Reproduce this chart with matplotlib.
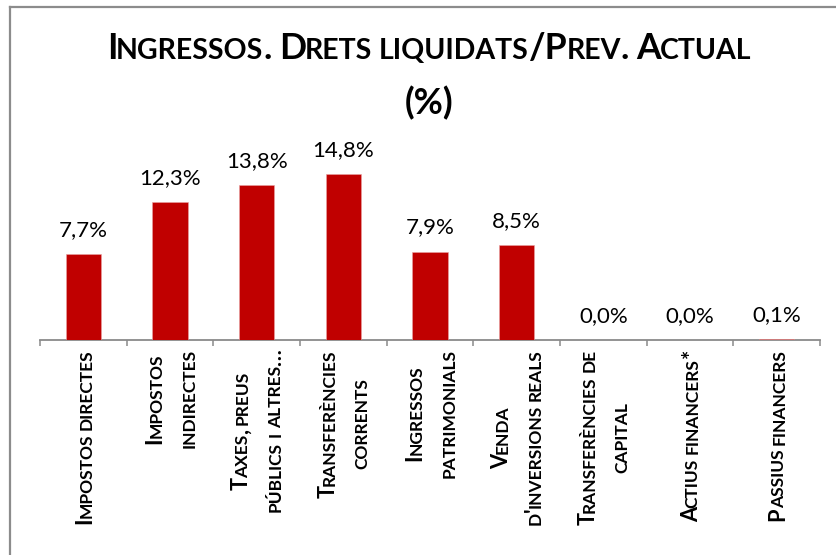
import matplotlib
matplotlib.use('Agg')
import matplotlib.pyplot as plt
from matplotlib.transforms import ScaledTranslation, blended_transform_factory
from matplotlib.lines import Line2D

# data
categories = ['Impostos directes', 'Impostos\nindirectes', 'Taxes, preus\npúblics i altres…',
              'Transferències\ncorrents', 'Ingressos\npatrimonials', "Venda\nd'inversions reals",
              'Transferències de\ncapital', 'Actius financers*', 'Passius financers']
values = [7.7, 12.3, 13.8, 14.8, 7.9, 8.5, 0.0, 0.0, 0.1]
title_lines = ['Ingressos. Drets liquidats/Prev. Actual', '(%)']

FONT = 'Lato'
SC = 0.8           # small caps size ratio
W, H, DPI = 836, 555, 100
PT = 72 / DPI      # px -> pt

fig = plt.figure(figsize=(W / DPI, H / DPI), dpi=DPI)
ax = fig.add_axes([40 / W, (H - 340) / H, 780 / W, 16 * 11.2 / H])
renderer = fig.canvas.get_renderer()


def runs(word):
    # runs of real capitals / lowercase letters (shown as smaller capitals)
    out = []
    for ch in word:
        small = ch.islower()
        if out and out[-1][1] == small:
            out[-1][0] += ch.upper()
        else:
            out.append([ch.upper(), small])
    return out


def adv_w(t, s):
    tmp = fig.text(0, 0, t, fontsize=s, fontweight='bold', family=FONT, ha='left', va='baseline')
    w = tmp.get_window_extent(renderer).width * PT
    tmp.remove()
    return w


def layout(line, size):
    items, pos = [], 0.0
    for k, word in enumerate(line.split(' ')):
        if k > 0:
            pos += 0.2 * size
        for n, (t, sm) in enumerate(runs(word)):
            s = size * SC if sm else size
            if n > 0 and sm:
                pos -= 0.035 * size   # rough kerning after a big capital
            items.append((t, s, pos))
            pos += adv_w(t, s)
    return items, pos


def smallcaps(items, x0, y0, tf, dx, dy, rotation=0):
    for t, s, off in items:
        ox, oy = (dx + off, dy) if rotation == 0 else (dx, dy + off)
        fig.text(x0, y0, t, transform=tf + ScaledTranslation(ox / 72, oy / 72, fig.dpi_scale_trans),
                 fontsize=s, fontweight='bold', family=FONT, rotation=rotation,
                 rotation_mode='anchor', ha='left', va='baseline', color='black')


x = list(range(len(values)))
ax.bar(x, values, width=0.41, color='#C00000', edgecolor='#e9a3a3', linewidth=0.4, zorder=3)
ax.set_xlim(-0.5, len(values) - 0.5)
ax.set_ylim(0, 16)
for i, v in zip(x, values):
    ax.annotate(f'{v:.1f}%'.replace('.', ','), (i, v), xytext=(0, 18 * PT), textcoords='offset points',
                ha='center', va='baseline', fontsize=16, family=FONT, color='black')

for s in ['top', 'right', 'left']:
    ax.spines[s].set_visible(False)
ax.spines['bottom'].set_color('#8a8a8a')
ax.spines['bottom'].set_linewidth(1.3)
ax.set_yticks([])
ax.set_xticks([i - 0.5 for i in range(len(values) + 1)])
ax.set_xticklabels([])
ax.tick_params(axis='x', length=6 * PT, width=1.1, color='#8a8a8a')

# title, sized so line 1 spans ~648 px
tsize = 20 * (648 * PT) / layout(title_lines[0], 20)[1]
for line, base_y in zip(title_lines, [59, 114]):
    items, lw = layout(line, tsize)
    smallcaps(items, 0, 0, fig.transFigure, 429 * PT - lw / 2, (H - base_y) * PT)

# category labels, rotated, sized so "Impostos directes" spans ~177 px
lsize = 12 * (177 * PT) / layout(categories[0], 12)[1]
lab_tf = blended_transform_factory(ax.transData, ax.transAxes)
spacing = 33 * PT
cap = 0.72 * lsize
for i, cat in enumerate(categories):
    laid = [layout(l, lsize) for l in cat.split('\n')]
    longest = max(w for _, w in laid)
    for j, (items, w) in enumerate(laid):
        cx = (j - (len(laid) - 1) / 2) * spacing
        dy = -9 * PT - longest / 2 - w / 2
        smallcaps(items, i, 0, lab_tf, cx + cap / 2, dy, rotation=90)

# chart area border
fig.add_artist(Line2D([10 / W, 10 / W], [0, (H - 7) / H], transform=fig.transFigure, color='#8c8c8c', lw=1.6))
fig.add_artist(Line2D([10 / W, 1], [(H - 7) / H, (H - 7) / H], transform=fig.transFigure, color='#8c8c8c', lw=1.6))

fig.savefig('out.png', dpi=DPI, facecolor='white')
